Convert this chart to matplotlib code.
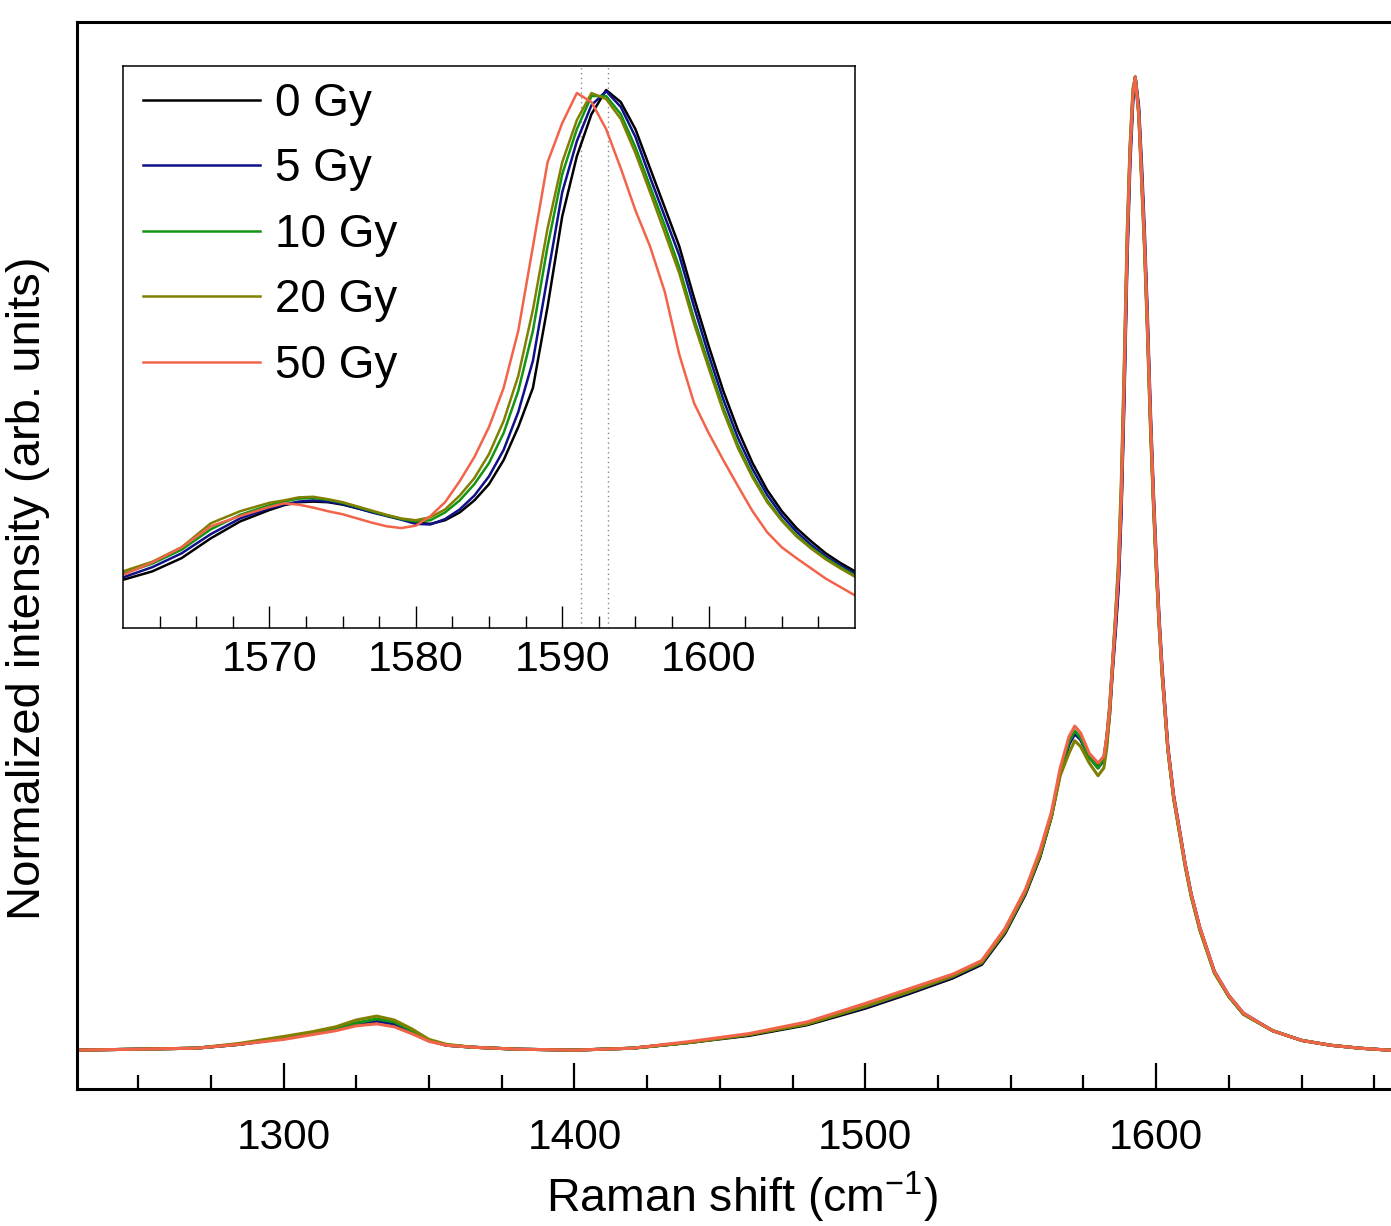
import numpy as np
import matplotlib
matplotlib.use("Agg")
import matplotlib.pyplot as plt
from matplotlib.ticker import MultipleLocator, FixedLocator

plt.rcParams['font.family'] = ['Liberation Sans', 'DejaVu Sans']
plt.rcParams['mathtext.fontset'] = 'custom'
plt.rcParams['mathtext.rm'] = 'Liberation Sans'
plt.rcParams['mathtext.it'] = 'Liberation Sans:italic'

# Raman spectra, normalised to the G peak (full range)
shift = [1229, 1250, 1270, 1285, 1300, 1310, 1318, 1325, 1332, 1338,
         1344, 1350, 1356, 1365, 1380, 1400, 1420, 1440, 1460, 1480,
         1500, 1515, 1530, 1540, 1548, 1555, 1560, 1564, 1567, 1570,
         1572, 1574, 1577, 1580, 1582, 1583, 1584, 1585, 1586, 1587,
         1588, 1589, 1590, 1591, 1592, 1592.8, 1594, 1595, 1596, 1597,
         1598, 1599, 1600, 1601, 1602, 1604, 1606, 1608, 1610, 1612,
         1615, 1620, 1625, 1630, 1640, 1650, 1660, 1670, 1680, 1700]

gy0 = [0.000, 0.001, 0.002, 0.006, 0.012, 0.017, 0.022, 0.027, 0.030, 0.027,
       0.019, 0.010, 0.005, 0.003, 0.001, 0.000, 0.002, 0.008, 0.015, 0.026,
       0.043, 0.058, 0.074, 0.088, 0.120, 0.160, 0.198, 0.240, 0.285, 0.315,
       0.327, 0.320, 0.302, 0.292, 0.300, 0.320, 0.350, 0.395, 0.435, 0.480,
       0.560, 0.680, 0.820, 0.920, 0.980, 1.000, 0.965, 0.900, 0.830, 0.745,
       0.650, 0.570, 0.500, 0.440, 0.390, 0.310, 0.260, 0.225, 0.190, 0.160,
       0.125, 0.080, 0.055, 0.037, 0.020, 0.010, 0.005, 0.002, 0.000, 0.000]

gy5 = [0.000, 0.001, 0.002, 0.006, 0.012, 0.017, 0.022, 0.027, 0.030, 0.027,
       0.019, 0.010, 0.005, 0.003, 0.001, 0.000, 0.002, 0.008, 0.016, 0.027,
       0.044, 0.059, 0.075, 0.089, 0.121, 0.161, 0.199, 0.241, 0.285, 0.314,
       0.325, 0.319, 0.301, 0.290, 0.298, 0.316, 0.345, 0.390, 0.430, 0.475,
       0.555, 0.670, 0.810, 0.910, 0.975, 1.000, 0.970, 0.910, 0.840, 0.755,
       0.660, 0.578, 0.508, 0.446, 0.395, 0.313, 0.262, 0.227, 0.191, 0.161,
       0.126, 0.081, 0.056, 0.038, 0.020, 0.010, 0.005, 0.002, 0.000, 0.000]

gy10 = [0.000, 0.001, 0.002, 0.006, 0.013, 0.018, 0.023, 0.028, 0.032, 0.029,
        0.020, 0.010, 0.005, 0.003, 0.001, 0.000, 0.002, 0.008, 0.016, 0.027,
        0.045, 0.060, 0.076, 0.090, 0.122, 0.162, 0.200, 0.242, 0.287, 0.317,
        0.328, 0.321, 0.301, 0.290, 0.300, 0.322, 0.355, 0.400, 0.445, 0.495,
        0.575, 0.695, 0.830, 0.925, 0.985, 1.000, 0.962, 0.895, 0.825, 0.740,
        0.645, 0.566, 0.497, 0.437, 0.388, 0.309, 0.259, 0.224, 0.189, 0.159,
        0.124, 0.080, 0.055, 0.037, 0.020, 0.010, 0.005, 0.002, 0.000, 0.000]

gy20 = [0.000, 0.001, 0.002, 0.007, 0.014, 0.019, 0.024, 0.031, 0.035, 0.031,
        0.022, 0.011, 0.006, 0.003, 0.001, 0.000, 0.002, 0.008, 0.016, 0.027,
        0.045, 0.060, 0.076, 0.090, 0.122, 0.162, 0.200, 0.240, 0.282, 0.305,
        0.318, 0.312, 0.295, 0.282, 0.290, 0.310, 0.345, 0.395, 0.445, 0.500,
        0.585, 0.705, 0.840, 0.930, 0.988, 1.000, 0.960, 0.890, 0.820, 0.735,
        0.640, 0.562, 0.494, 0.435, 0.386, 0.308, 0.258, 0.223, 0.188, 0.158,
        0.123, 0.079, 0.055, 0.037, 0.020, 0.010, 0.005, 0.002, 0.000, 0.000]

gy50 = [0.000, 0.001, 0.002, 0.006, 0.011, 0.016, 0.020, 0.025, 0.027, 0.024,
        0.017, 0.009, 0.005, 0.003, 0.001, 0.000, 0.002, 0.009, 0.017, 0.029,
        0.048, 0.063, 0.078, 0.092, 0.125, 0.165, 0.205, 0.245, 0.290, 0.322,
        0.333, 0.326, 0.305, 0.295, 0.302, 0.322, 0.352, 0.398, 0.440, 0.487,
        0.568, 0.688, 0.826, 0.922, 0.982, 1.000, 0.963, 0.898, 0.830, 0.745,
        0.652, 0.572, 0.502, 0.441, 0.391, 0.311, 0.261, 0.226, 0.191, 0.161,
        0.126, 0.081, 0.056, 0.038, 0.020, 0.010, 0.005, 0.002, 0.000, 0.000]

# G / D' region, enlarged in the inset
shift_g = [1560, 1562, 1564, 1566, 1568, 1570, 1571, 1572, 1573, 1574,
           1575, 1576, 1577, 1578, 1579, 1580, 1581, 1582, 1583, 1584,
           1585, 1586, 1587, 1588, 1589, 1590, 1591, 1592, 1593, 1594,
           1595, 1596, 1597, 1598, 1599, 1600, 1601, 1602, 1603, 1604,
           1605, 1606, 1607, 1608, 1609, 1610]

g_gy0 = [0.186, 0.200, 0.222, 0.255, 0.283, 0.302, 0.310, 0.315, 0.316, 0.315,
         0.311, 0.305, 0.299, 0.293, 0.287, 0.281, 0.279, 0.285, 0.298, 0.318,
         0.345, 0.385, 0.440, 0.505, 0.640, 0.790, 0.890, 0.960, 1.000, 0.980,
         0.935, 0.870, 0.805, 0.740, 0.655, 0.575, 0.500, 0.435, 0.380, 0.335,
         0.300, 0.272, 0.250, 0.230, 0.214, 0.200]

g_gy5 = [0.190, 0.207, 0.230, 0.262, 0.288, 0.305, 0.311, 0.316, 0.318, 0.316,
         0.312, 0.305, 0.298, 0.292, 0.286, 0.279, 0.278, 0.287, 0.303, 0.326,
         0.358, 0.402, 0.465, 0.550, 0.690, 0.830, 0.915, 0.975, 0.998, 0.972,
         0.922, 0.855, 0.790, 0.725, 0.640, 0.560, 0.486, 0.422, 0.370, 0.327,
         0.293, 0.266, 0.244, 0.225, 0.210, 0.196]

g_gy10 = [0.196, 0.213, 0.236, 0.270, 0.294, 0.310, 0.316, 0.321, 0.322, 0.319,
          0.314, 0.307, 0.300, 0.293, 0.287, 0.283, 0.285, 0.298, 0.318, 0.345,
          0.380, 0.430, 0.500, 0.600, 0.740, 0.860, 0.935, 0.990, 0.990, 0.960,
          0.905, 0.840, 0.775, 0.705, 0.620, 0.545, 0.472, 0.410, 0.360, 0.318,
          0.286, 0.260, 0.240, 0.222, 0.207, 0.193]

g_gy20 = [0.200, 0.216, 0.240, 0.280, 0.300, 0.314, 0.318, 0.323, 0.324, 0.320,
          0.315, 0.308, 0.301, 0.294, 0.288, 0.285, 0.290, 0.303, 0.326, 0.355,
          0.395, 0.450, 0.525, 0.635, 0.770, 0.880, 0.950, 0.995, 0.985, 0.952,
          0.895, 0.830, 0.763, 0.695, 0.612, 0.538, 0.466, 0.405, 0.356, 0.315,
          0.284, 0.258, 0.238, 0.220, 0.205, 0.191]

g_gy50 = [0.194, 0.215, 0.240, 0.275, 0.292, 0.307, 0.313, 0.311, 0.306, 0.300,
          0.295, 0.288, 0.281, 0.275, 0.272, 0.276, 0.292, 0.315, 0.350, 0.390,
          0.440, 0.505, 0.600, 0.740, 0.880, 0.945, 0.995, 0.980, 0.935, 0.870,
          0.800, 0.740, 0.665, 0.560, 0.480, 0.430, 0.385, 0.342, 0.300, 0.265,
          0.240, 0.222, 0.205, 0.188, 0.174, 0.160]

labels = ['0 Gy', '5 Gy', '10 Gy', '20 Gy', '50 Gy']
colors = ['#000000', '#10108a', '#149414', '#808000', '#f2644a']
peak_marks = [1591.3, 1593.1]
inset_major = [1570, 1580, 1590, 1600]
inset_minor = [1562.5, 1565, 1567.5, 1572.5, 1575, 1577.5, 1582.5, 1585,
               1587.5, 1592.5, 1595, 1597.5, 1602.5, 1605, 1607.5]

full = [gy0, gy5, gy10, gy20, gy50]
zoom = [g_gy0, g_gy5, g_gy10, g_gy20, g_gy50]

fig = plt.figure(figsize=(13.91, 12.26), dpi=100)

# main panel runs past the right edge of the figure
ax = fig.add_axes([0.0554, 0.1117, 0.9640, 0.8703])
for y, c, lab in zip(full, colors, labels):
    ax.plot(shift, y, color=c, lw=2.2, label=lab)
ax.set_xlim(1229, 1690)
ax.set_ylim(-0.040, 1.0565)
ax.xaxis.set_major_locator(MultipleLocator(100))
ax.xaxis.set_minor_locator(MultipleLocator(25))
ax.tick_params(axis='x', which='major', direction='in', length=19, width=1.6,
               pad=21, labelsize=30.5, top=False)
ax.tick_params(axis='x', which='minor', direction='in', length=10, width=1.6,
               top=False)
ax.set_yticks([])
for sp in ax.spines.values():
    sp.set_linewidth(2.2)

fig.text(742 / 1391, 0.011, 'Raman shift (cm$^{-1}$)', fontsize=33.5,
         ha='center', va='baseline')
fig.text(28 / 1391, 1 - 588 / 1226, 'Normalized intensity (arb. units)',
         fontsize=34, rotation=90, ha='center', va='center')

# inset: G band shift with dose
axi = fig.add_axes([0.0884, 0.4878, 0.5263, 0.4584])
for x0 in peak_marks:
    axi.axvline(x0, color='#888888', lw=1.0, ls=(0, (1, 2.5)), zorder=1)
for y, c, lab in zip(zoom, colors, labels):
    axi.plot(shift_g, y, color=c, lw=1.8, label=lab, zorder=2)
axi.set_xlim(1560, 1610)
axi.set_ylim(0.106, 1.04)
axi.xaxis.set_major_locator(FixedLocator(inset_major))
axi.xaxis.set_minor_locator(FixedLocator(inset_minor))
axi.tick_params(axis='x', which='major', direction='in', length=16, width=1.0,
                pad=9, labelsize=31)
axi.tick_params(axis='x', which='minor', direction='in', length=9, width=1.0)
axi.set_yticks([])
for sp in axi.spines.values():
    sp.set_linewidth(1.1)

axi.legend(loc='upper left', bbox_to_anchor=(0.027, 0.972), frameon=False,
           fontsize=33, handlelength=2.55, handletextpad=0.33,
           labelspacing=0.47, borderpad=0, borderaxespad=0)

fig.savefig('out.png', dpi=100)
